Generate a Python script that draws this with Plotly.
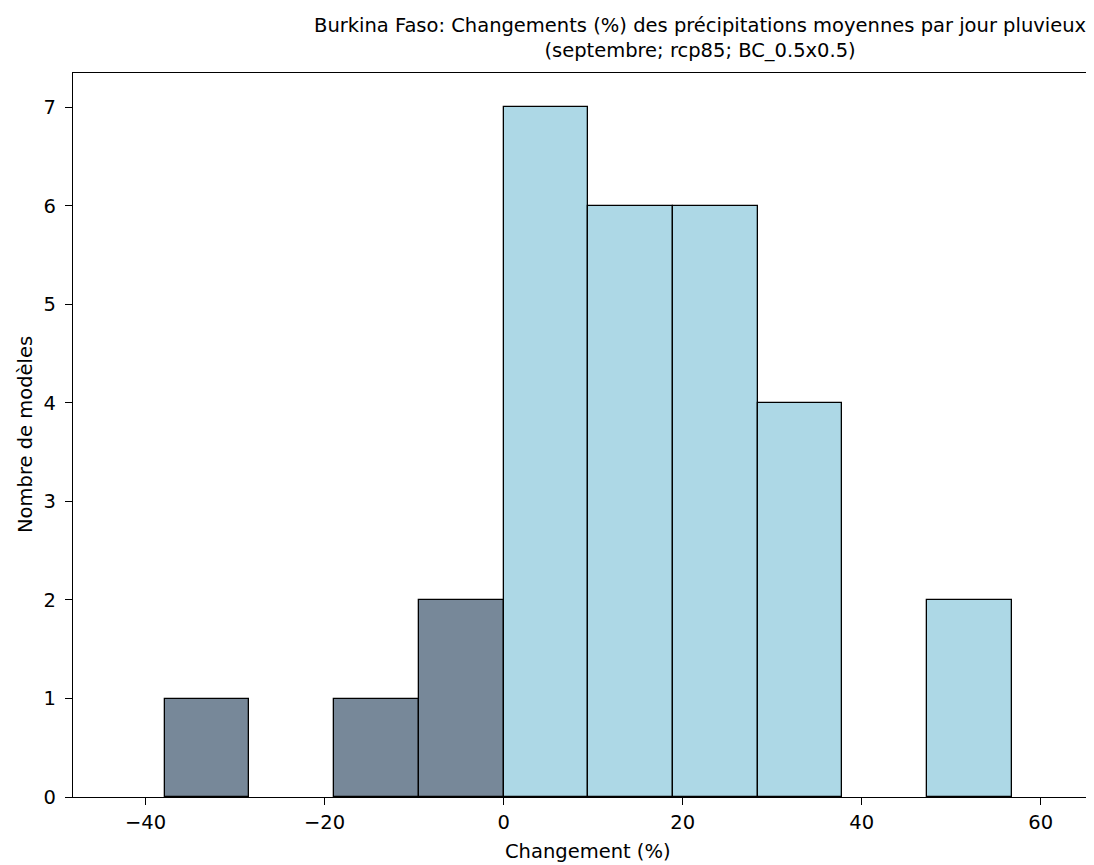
import plotly.graph_objects as go

# Histogram data (bin edges and counts)
bin_edges = [-37.85, -28.39, -18.93, -9.47, 0.0, 9.46, 18.93, 28.39, 37.85, 47.31, 56.78]
counts = [1, 0, 1, 2, 7, 6, 6, 4, 0, 2]
x_tick_vals = [-40, -20, 0, 20, 40, 60]
x_tick_text = ["\u221240", "\u221220", "0", "20", "40", "60"]
y_tick_vals = [0, 1, 2, 3, 4, 5, 6, 7]

title_text = ("Burkina Faso: Changements (%) des précipitations moyennes par jour pluvieux<br>"
              "(septembre; rcp85; BC_0.5x0.5)")
x_label = "Changement (%)"
y_label = "Nombre de modèles"

neg_color = "#778899"
pos_color = "#ADD8E6"

centers, heights, widths, colors = [], [], [], []
for i, c in enumerate(counts):
    if c == 0:
        continue
    mid = (bin_edges[i] + bin_edges[i + 1]) / 2
    centers.append(mid)
    heights.append(c)
    widths.append(bin_edges[i + 1] - bin_edges[i])
    colors.append(neg_color if mid < 0 else pos_color)

fig = go.Figure()
fig.add_trace(go.Bar(
    x=centers, y=heights, width=widths,
    marker=dict(color=colors, line=dict(color="black", width=1.3)),
    showlegend=False,
))

FONT = "DejaVu Sans"
FS = 19.5
L, R = 73, 1094
fig.update_layout(
    width=1094, height=865,
    paper_bgcolor="white", plot_bgcolor="white",
    margin=dict(l=65, r=8, t=65, b=76),
    font=dict(family=FONT, size=FS, color="black"),
    bargap=0,
    xaxis=dict(
        range=[-48.1, 65.95],
        tickvals=x_tick_vals, ticktext=x_tick_text,
        ticks="outside", ticklen=7, tickwidth=1.2, tickcolor="black",
        ticklabelstandoff=0,
        showline=True, linecolor="black", linewidth=1.2, mirror=True,
        showgrid=False, zeroline=False,
        tickfont=dict(family=FONT, size=FS),
    ),
    yaxis=dict(
        range=[0, 7.35],
        tickvals=y_tick_vals,
        ticks="outside", ticklen=7, tickwidth=1.2, tickcolor="black",
        ticklabelstandoff=5,
        showline=True, linecolor="black", linewidth=1.2,
        showgrid=False, zeroline=False,
        tickfont=dict(family=FONT, size=FS),
    ),
    annotations=[
        dict(text=title_text, xref="paper", yref="paper",
             x=(700 - L) / (R - L), y=1, yanchor="bottom", xanchor="center",
             yshift=9, showarrow=False, font=dict(family=FONT, size=FS)),
        dict(text=x_label, xref="paper", yref="paper",
             x=(588 - L) / (R - L), y=0, yanchor="top", xanchor="center",
             yshift=-41, showarrow=False, font=dict(family=FONT, size=FS)),
        dict(text=y_label, xref="paper", yref="paper",
             x=0, y=0.5, xanchor="center", yanchor="middle",
             xshift=-48, textangle=-90, showarrow=False, font=dict(family=FONT, size=FS)),
    ],
)

fig.write_html("out.html")
